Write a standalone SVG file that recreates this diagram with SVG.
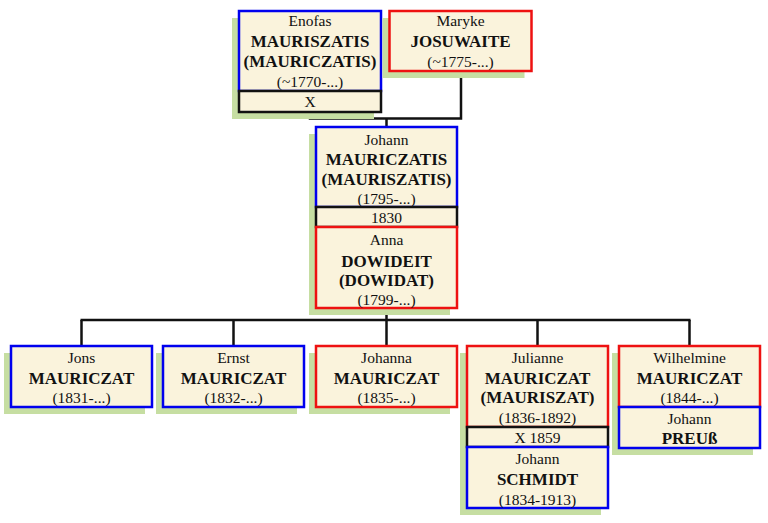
<svg xmlns="http://www.w3.org/2000/svg" width="768" height="523" viewBox="0 0 768 523">
<style>
.sh{fill:#c6dea2}
.bx{fill:#faf3dc;stroke-width:2.5}
.m{stroke:#0000ee}
.f{stroke:#ee1111}
.k{stroke:#111111}
text{font-family:"Liberation Serif","Times New Roman",serif;fill:#111;text-anchor:middle}
.n{font-size:15.5px}
.b{font-size:17px;font-weight:bold}
.ln{fill:none;stroke:#111;stroke-width:2.5}
</style>
<rect width="768" height="523" fill="#ffffff"/>
<g id="connectors">
<polyline class="ln" points="310,112 310,118.5 461,118.5 461,71"/>
<line class="ln" x1="386.5" y1="118.5" x2="386.5" y2="127"/>
<line class="ln" x1="386.5" y1="308" x2="386.5" y2="320"/>
<line class="ln" x1="80.5" y1="320" x2="690.5" y2="320"/>
<line class="ln" x1="81.5" y1="320" x2="81.5" y2="346"/>
<line class="ln" x1="233.5" y1="320" x2="233.5" y2="346"/>
<line class="ln" x1="386.5" y1="320" x2="386.5" y2="346"/>
<line class="ln" x1="537.5" y1="320" x2="537.5" y2="346"/>
<line class="ln" x1="689.5" y1="320" x2="689.5" y2="346"/>
</g>
<g id="enofas">
<rect class="sh" x="232" y="18" width="142" height="101"/>
<rect class="bx m" x="239" y="11" width="142" height="80"/>
<text class="n" x="310" y="26">Enofas</text>
<text class="b" x="310" y="47">MAURISZATIS</text>
<text class="b" x="310" y="67">(MAURICZATIS)</text>
<text class="n" x="310" y="87">(~1770-...)</text>
</g>
<g id="marriage-enofas-maryke">
<rect class="bx k" x="239" y="91" width="142" height="21"/>
<text class="n" x="310" y="107">X</text>
</g>
<g id="maryke">
<rect class="sh" x="382.5" y="18" width="142" height="60"/>
<rect class="bx f" x="389.5" y="11" width="142" height="60"/>
<text class="n" x="460.5" y="26">Maryke</text>
<text class="b" x="460.5" y="47">JOSUWAITE</text>
<text class="n" x="460.5" y="67">(~1775-...)</text>
</g>
<g id="johann-anna-shadow">
<rect class="sh" x="309" y="134" width="141" height="181"/>
</g>
<g id="johann">
<rect class="bx m" x="316" y="127" width="141" height="80"/>
<text class="n" x="386.5" y="145">Johann</text>
<text class="b" x="386.5" y="165">MAURICZATIS</text>
<text class="b" x="386.5" y="185">(MAURISZATIS)</text>
<text class="n" x="386.5" y="204">(1795-...)</text>
</g>
<g id="marriage-johann-anna">
<rect class="bx k" x="316" y="207" width="141" height="20"/>
<text class="n" x="386.5" y="223">1830</text>
</g>
<g id="anna">
<rect class="bx f" x="316" y="227" width="141" height="81"/>
<text class="n" x="386.5" y="245">Anna</text>
<text class="b" x="386.5" y="267">DOWIDEIT</text>
<text class="b" x="386.5" y="286">(DOWIDAT)</text>
<text class="n" x="386.5" y="305">(1799-...)</text>
</g>
<g id="jons">
<rect class="sh" x="4" y="353" width="141" height="61"/>
<rect class="bx m" x="11" y="346" width="141" height="61"/>
<text class="n" x="81.5" y="363">Jons</text>
<text class="b" x="81.5" y="384">MAURICZAT</text>
<text class="n" x="81.5" y="403">(1831-...)</text>
</g>
<g id="ernst">
<rect class="sh" x="156" y="353" width="141" height="61"/>
<rect class="bx m" x="163" y="346" width="141" height="61"/>
<text class="n" x="233.5" y="363">Ernst</text>
<text class="b" x="233.5" y="384">MAURICZAT</text>
<text class="n" x="233.5" y="403">(1832-...)</text>
</g>
<g id="johanna">
<rect class="sh" x="309" y="353" width="141" height="61"/>
<rect class="bx f" x="316" y="346" width="141" height="61"/>
<text class="n" x="386.5" y="363">Johanna</text>
<text class="b" x="386.5" y="384">MAURICZAT</text>
<text class="n" x="386.5" y="403">(1835-...)</text>
</g>
<g id="julianne-schmidt-shadow">
<rect class="sh" x="460" y="353" width="141" height="162"/>
</g>
<g id="julianne">
<rect class="bx f" x="467" y="346" width="141" height="81"/>
<text class="n" x="537.5" y="363">Julianne</text>
<text class="b" x="537.5" y="384">MAURICZAT</text>
<text class="b" x="537.5" y="403">(MAURISZAT)</text>
<text class="n" x="537.5" y="423">(1836-1892)</text>
</g>
<g id="marriage-julianne-schmidt">
<rect class="bx k" x="467" y="427" width="141" height="20"/>
<text class="n" x="537.5" y="443">X 1859</text>
</g>
<g id="johann-schmidt">
<rect class="bx m" x="467" y="447" width="141" height="61"/>
<text class="n" x="537.5" y="464">Johann</text>
<text class="b" x="537.5" y="485">SCHMIDT</text>
<text class="n" x="537.5" y="505">(1834-1913)</text>
</g>
<g id="wilhelmine-preuss-shadow">
<rect class="sh" x="612" y="353" width="141" height="102"/>
</g>
<g id="wilhelmine">
<rect class="bx f" x="619" y="346" width="141" height="61"/>
<text class="n" x="689.5" y="363">Wilhelmine</text>
<text class="b" x="689.5" y="384">MAURICZAT</text>
<text class="n" x="689.5" y="403">(1844-...)</text>
</g>
<g id="johann-preuss">
<rect class="bx m" x="619" y="407" width="141" height="41"/>
<text class="n" x="689.5" y="424">Johann</text>
<text class="b" x="689.5" y="444">PREUß</text>
</g>
</svg>
